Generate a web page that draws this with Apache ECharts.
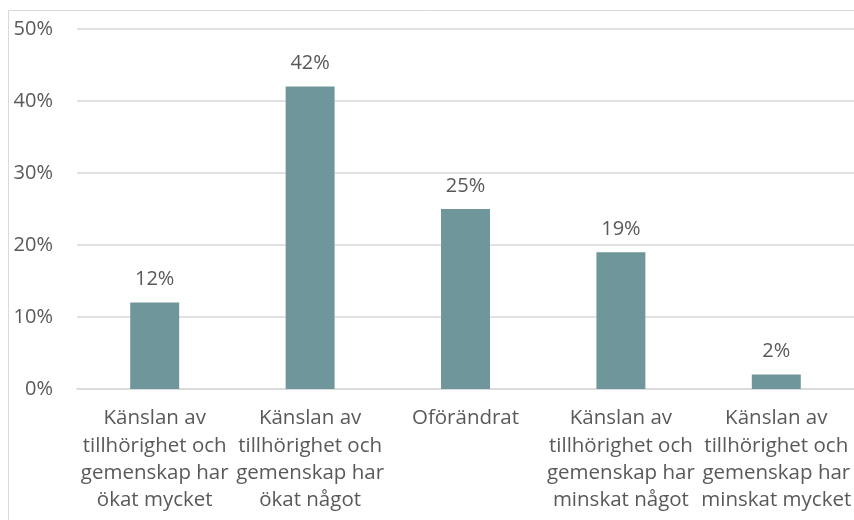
<!DOCTYPE html>
<html>
<head>
<meta charset="utf-8">
<script src="https://cdn.jsdelivr.net/npm/echarts@6/dist/echarts.min.js"></script>
<style>
  html, body { margin: 0; padding: 0; background: #fff; }
  #chart { width: 854px; height: 520px; }
</style>
</head>
<body>
<div id="chart"></div>
<script>
// Answer categories (wrapped onto several lines under each bar)
const categories = [
  "Känslan av\ntillhörighet och\ngemenskap har\nökat mycket",
  "Känslan av\ntillhörighet och\ngemenskap har\nökat något",
  "Oförändrat",
  "Känslan av\ntillhörighet och\ngemenskap har\nminskat något",
  "Känslan av\ntillhörighet och\ngemenskap har\nminskat mycket"
];
// Share of respondents, percent
const shares = [12, 42, 25, 19, 2];
// Value axis ticks
const yTicks = [0, 10, 20, 30, 40, 50];

const FONT = "'Open Sans', sans-serif";
const TEXT = "#595959";

const chart = echarts.init(document.getElementById("chart"), null, { renderer: "canvas" });
chart.setOption({
  animation: false,
  backgroundColor: "#ffffff",
  textStyle: { fontFamily: FONT },
  graphic: [{
    type: "rect",
    shape: { x: 8.5, y: 10.5, width: 900, height: 600 },
    style: { fill: null, stroke: "#d9d9d9", lineWidth: 1 },
    silent: true,
    z: -1
  }],
  grid: { left: 77, right: -3, top: 29, bottom: 131, containLabel: false },
  xAxis: {
    type: "category",
    data: categories,
    axisTick: { show: false },
    axisLine: { show: true, lineStyle: { color: "#d9d9d9", width: 1.5 } },
    axisLabel: {
      interval: 0,
      color: TEXT,
      fontFamily: FONT,
      fontSize: 20.5,
      lineHeight: 27.3,
      margin: 16
    }
  },
  yAxis: {
    type: "value",
    min: yTicks[0],
    max: yTicks[yTicks.length - 1],
    interval: 10,
    axisLine: { show: false },
    axisTick: { show: false },
    splitLine: { lineStyle: { color: "#d9d9d9", width: 1.5 } },
    axisLabel: {
      color: TEXT,
      fontFamily: FONT,
      fontSize: 20,
      margin: 24,
      formatter: v => v + "%"
    }
  },
  series: [{
    type: "bar",
    data: shares,
    barWidth: "31.5%",
    itemStyle: { color: "#6e969b" },
    label: {
      show: true,
      position: "top",
      distance: 13,
      color: TEXT,
      fontFamily: FONT,
      fontSize: 20,
      formatter: p => p.value + "%"
    }
  }]
});
</script>
</body>
</html>
